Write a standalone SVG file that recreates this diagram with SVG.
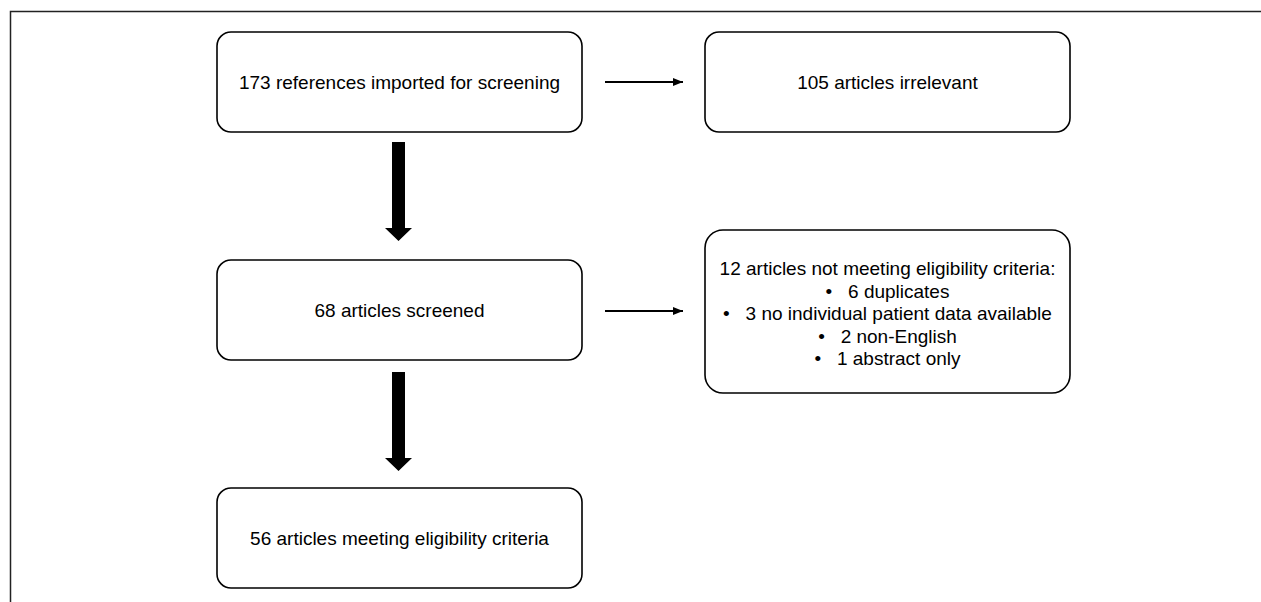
<svg xmlns="http://www.w3.org/2000/svg" width="1261" height="602" viewBox="0 0 1261 602">
<style>
.box{fill:#fff;stroke:#000;stroke-width:1.6}
.t{font-family:"Liberation Sans",Arial,sans-serif;font-size:19px;fill:#000;text-anchor:middle}
.ln{stroke:#000;stroke-width:2;fill:none}
</style>
<defs>
<marker id="ah" markerWidth="10" markerHeight="8" refX="10" refY="4" orient="auto" markerUnits="userSpaceOnUse">
<path d="M0,0 L10,4 L0,8 Z" fill="#000"/>
</marker>
</defs>
<rect width="1261" height="602" fill="#fff"/>
<g id="frame">
<path d="M10.5,602 V11.5 H1261" fill="none" stroke="#222" stroke-width="1.5"/>
</g>
<g id="n1"><rect class="box" x="217" y="32" width="365" height="100" rx="14"/><text class="t" x="399.5" y="89">173 references imported for screening</text></g>
<g id="n2"><rect class="box" x="705" y="32" width="365" height="100" rx="14"/><text class="t" x="887.5" y="89">105 articles irrelevant</text></g>
<g id="n3"><rect class="box" x="217" y="260" width="365" height="100" rx="14"/><text class="t" x="399.5" y="317">68 articles screened</text></g>
<g id="n4"><rect class="box" x="705" y="230" width="365" height="163" rx="18"/>
<text class="t" x="887.5" y="275">12 articles not meeting eligibility criteria:</text>
<text class="t" x="887.5" y="297.5">•&#160;&#160; 6 duplicates</text>
<text class="t" x="887.5" y="320">•&#160;&#160; 3 no individual patient data available</text>
<text class="t" x="887.5" y="342.5">•&#160;&#160; 2 non-English</text>
<text class="t" x="887.5" y="365">•&#160;&#160; 1 abstract only</text>
</g>
<g id="n5"><rect class="box" x="217" y="488" width="365" height="100" rx="14"/><text class="t" x="399.5" y="545">56 articles meeting eligibility criteria</text></g>
<g id="connectors">
<line class="ln" x1="605" y1="82" x2="683" y2="82" marker-end="url(#ah)"/>
<line class="ln" x1="605" y1="311" x2="683" y2="311" marker-end="url(#ah)"/>
<path d="M392,142 H405 V228 H412 L398.5,241 L385,228 H392 Z" fill="#000"/>
<path d="M392,372 H405 V458 H412 L398.5,471 L385,458 H392 Z" fill="#000"/>
</g>
</svg>
